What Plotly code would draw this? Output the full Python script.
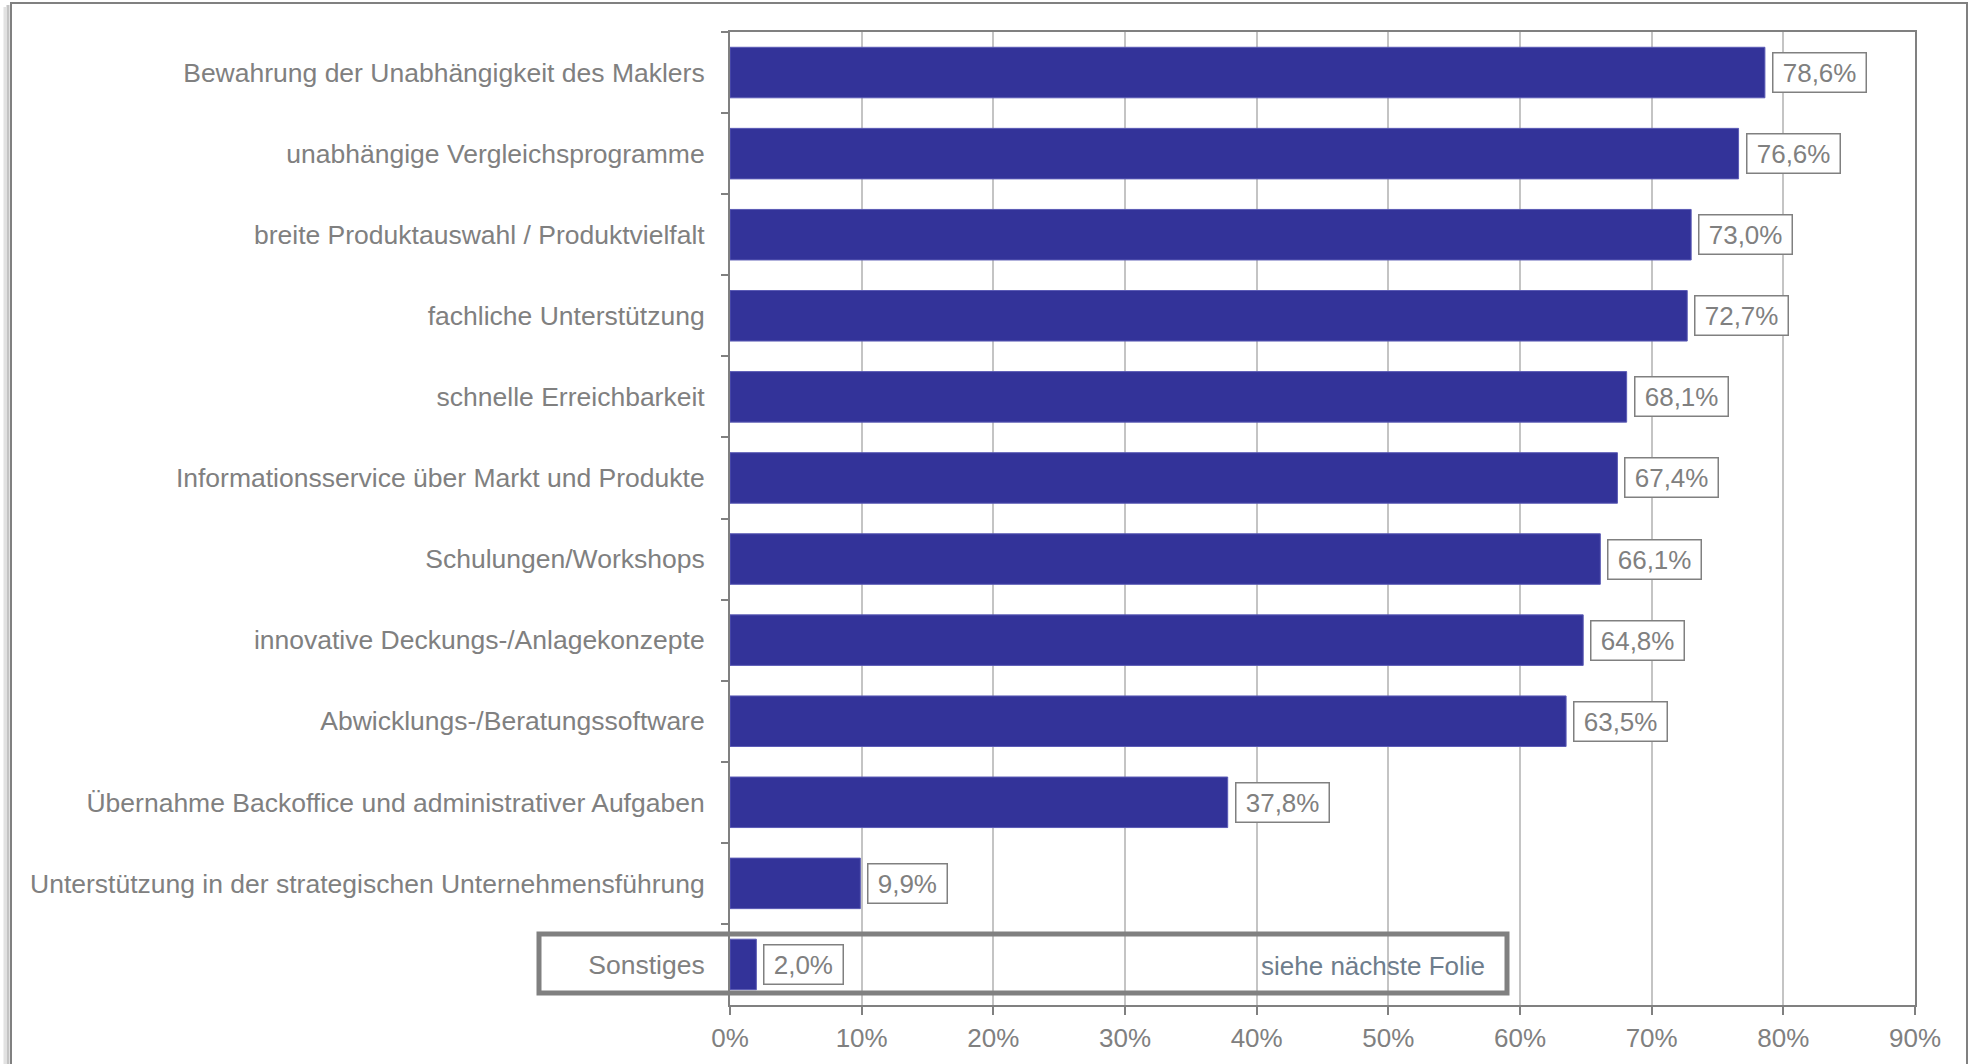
import plotly.graph_objects as go

categories = [
    "Bewahrung der Unabhängigkeit des Maklers",
    "unabhängige Vergleichsprogramme",
    "breite Produktauswahl / Produktvielfalt",
    "fachliche Unterstützung",
    "schnelle Erreichbarkeit",
    "Informationsservice über Markt und Produkte",
    "Schulungen/Workshops",
    "innovative Deckungs-/Anlagekonzepte",
    "Abwicklungs-/Beratungssoftware",
    "Übernahme Backoffice und administrativer Aufgaben",
    "Unterstützung in der strategischen Unternehmensführung",
    "Sonstiges",
]
values = [78.6, 76.6, 73.0, 72.7, 68.1, 67.4, 66.1, 64.8, 63.5, 37.8, 9.9, 2.0]
x_ticks = [0, 10, 20, 30, 40, 50, 60, 70, 80, 90]
x_tick_labels = [f"{t}%" for t in x_ticks]
note_text = "siehe nächste Folie"

FONT = "Liberation Sans, Arial, sans-serif"
GRAY = "#808080"
BAR = "#333399"

W, H = 1974, 1064
# desired plot area in page pixels
PL, PR, PT, PB = 730, 1915, 32, 1005
L = PL
R = W - PR
T = PT
B = H - PB
pw, ph = PR - PL, PB - PT


def px(x):
    return (x - PL) / pw


def py(y):
    return (PB - y) / ph


fig = go.Figure()
fig.add_trace(go.Bar(
    y=categories, x=values, orientation="h",
    marker=dict(color=BAR, line=dict(color="#5b5bb5", width=1)),
    hoverinfo="skip",
))

annotations = []
for c, v in zip(categories, values):
    annotations.append(dict(
        x=v, y=c, xref="x", yref="y", xanchor="left", yanchor="middle",
        xshift=7, showarrow=False,
        text="\u2009" + f"{v:.1f}".replace(".", ",") + "%" + "\u2009",
        font=dict(family=FONT, size=26, color=GRAY),
        bordercolor=GRAY, borderwidth=1.5, borderpad=4, bgcolor="white",
    ))

annotations.append(dict(
    x=px(1487), y=py(966), xref="paper", yref="paper",
    xanchor="right", yanchor="middle", showarrow=False,
    text=note_text, font=dict(family=FONT, size=26, color="#6e7d8c"),
))

shapes = [
    # outer frame shadow
    dict(type="line", xref="paper", yref="paper", x0=px(8), x1=px(8), y0=py(1080), y1=py(5),
         line=dict(color="#c4c4c4", width=3), layer="below"),
    dict(type="line", xref="paper", yref="paper", x0=px(5), x1=px(5), y0=py(1080), y1=py(7),
         line=dict(color="#e2e2e2", width=3), layer="below"),
    # outer frame
    dict(type="rect", xref="paper", yref="paper", x0=px(11), x1=px(1967), y0=py(1080), y1=py(3),
         line=dict(color=GRAY, width=2), fillcolor="rgba(0,0,0,0)", layer="below"),
    # highlight box around "Sonstiges"
    dict(type="rect", xref="paper", yref="paper", x0=px(539), x1=px(1507), y0=py(993), y1=py(934),
         line=dict(color=GRAY, width=5), fillcolor="rgba(0,0,0,0)", layer="above"),
]

fig.update_layout(
    width=W, height=H,
    margin=dict(l=L, r=R, t=T, b=B),
    paper_bgcolor="white", plot_bgcolor="white",
    showlegend=False, bargap=0.377,
    separators=",.",
    annotations=annotations, shapes=shapes,
    font=dict(family=FONT, size=26, color=GRAY),
)
fig.update_xaxes(
    range=[0, 90], tickvals=x_ticks, ticktext=x_tick_labels,
    showgrid=True, gridcolor="#c4c4c4", gridwidth=1.5,
    showline=True, linecolor=GRAY, linewidth=2, mirror=True,
    ticks="outside", ticklen=8, tickcolor=GRAY, tickwidth=2,
    tickfont=dict(family=FONT, size=26, color=GRAY),
    ticklabelstandoff=1, zeroline=False, fixedrange=True,
)
fig.update_yaxes(
    autorange="reversed", tickson="boundaries",
    showline=True, linecolor=GRAY, linewidth=2, mirror=True,
    ticks="outside", ticklen=7, tickcolor=GRAY, tickwidth=2,
    tickfont=dict(family=FONT, size=26.5, color=GRAY),
    ticklabelstandoff=18, showgrid=False, fixedrange=True,
)

fig.write_html(
    "out.html",
    config={"displayModeBar": False},
    post_script="document.body.style.margin='0';document.body.style.overflow='hidden';",
)
